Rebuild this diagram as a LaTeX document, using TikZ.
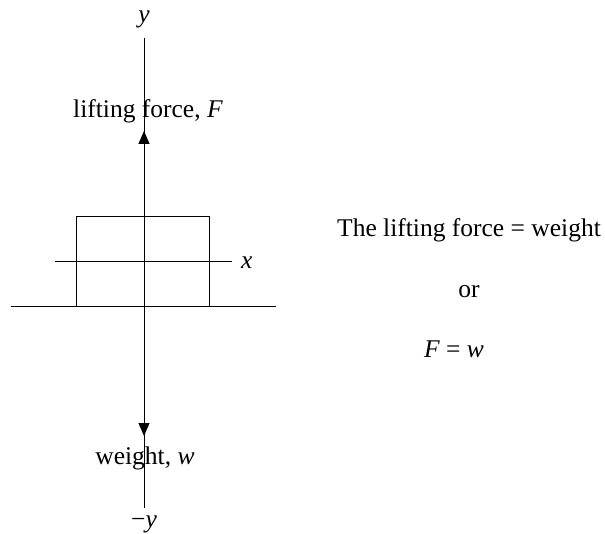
\documentclass[tikz,border=0pt]{standalone}
\usepackage{fontspec}
\setmainfont{Liberation Serif}
\usetikzlibrary{arrows.meta}
\begin{document}
\begin{tikzpicture}[x=1pt,y=-1pt,
  lbl/.style={font=\fontsize{25.5}{30}\selectfont, inner sep=0pt, anchor=base},
  thinline/.style={line width=0.7pt},
  force/.style={line width=1pt, -{Triangle[length=13pt,width=11pt]}}]
\useasboundingbox (0,0) rectangle (605,534);
% axes
\coordinate (O) at (144,261);
\coordinate (ytop) at (144,38);
\coordinate (ybot) at (144,508);
\coordinate (xl) at (55,261);
\coordinate (xr) at (232,261);
\coordinate (Ftip) at (144,131);
\coordinate (wtip) at (144,436);
\draw[thinline] (ytop) -- (ybot);
\draw[thinline] (xl) -- (xr);
% ground
\coordinate (gl) at (11,306);
\coordinate (gr) at (276,306);
\draw[thinline] (gl) -- (gr);
% block
\coordinate (b1) at (76,306);
\coordinate (b2) at (76,216);
\coordinate (b3) at (209,216);
\coordinate (b4) at (209,306);
\draw[thinline] (b1) -- (b2) -- (b3) -- (b4);
% forces
\draw[force] (O) -- (Ftip);
\draw[force] (O) -- (wtip);
% labels
\node[lbl] (ylab) at (144,23) {\textit{y}};
\node[lbl] (mylab) at (144,527) {−\textit{y}};
\node[lbl, anchor=base west] (xlab) at (241,269) {\textit{x}};
\node[lbl] (Flab) at (148,118) {lifting force, \textit{F}};
\node[lbl] (wlab) at (145,464) {weight, \textit{w}};
\node[lbl] (t1) at (469,237) {The lifting force = weight};
\node[lbl] (t2) at (469,298) {or};
\node[lbl] (t3) at (454,358) {\textit{F} = \textit{w}};
\end{tikzpicture}
\end{document}
